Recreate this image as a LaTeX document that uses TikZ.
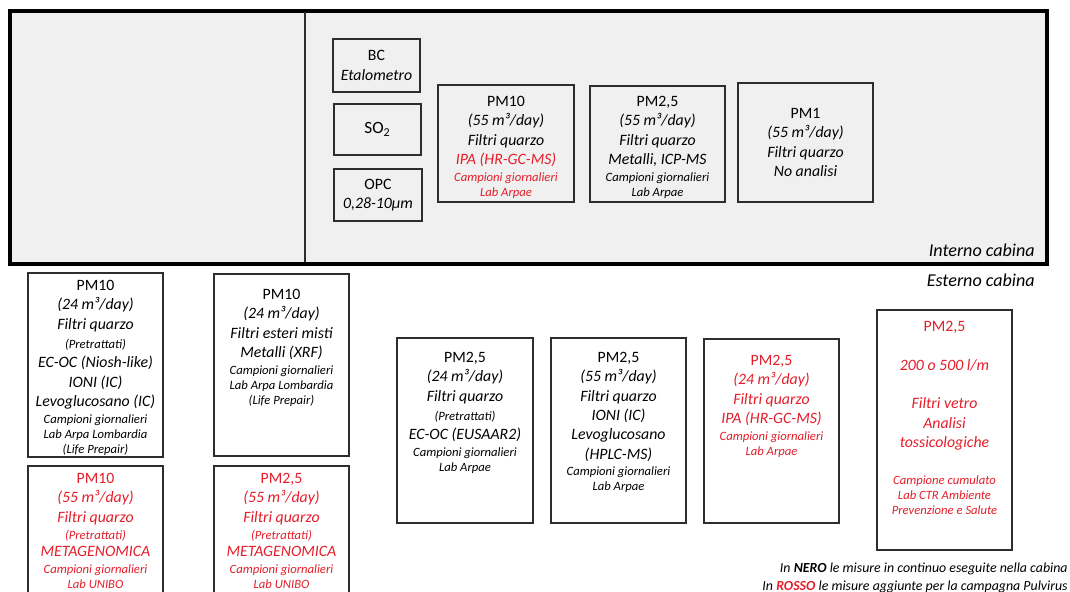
\documentclass[tikz,border=0pt]{standalone}
\usepackage{fontspec}
\setmainfont{Carlito}
\usetikzlibrary{fit}
\definecolor{rosso}{RGB}{228,30,42}
\definecolor{grigio}{RGB}{240,240,240}
\definecolor{bordo}{RGB}{45,45,45}
\newcommand{\piccolo}[1]{{\fontsize{7.2}{8}\selectfont #1}}

\begin{document}
\begin{tikzpicture}[x=0.02cm,y=-0.02cm,
  box/.style={draw=bordo, line width=0.7pt, inner sep=0pt},
  txt/.style={align=center, inner sep=0pt, font=\fontsize{9}{11}\selectfont\itshape},
  rossotxt/.style={txt, text=rosso},
  nota/.style={inner sep=0pt, anchor=east, font=\fontsize{7.9}{9}\selectfont\itshape}]
\useasboundingbox (0,0) rectangle (1070,591);
\clip (0,0) rectangle (1070,591);
% cabina
\draw [fill=grigio, line width=2.2pt] (10,11) rectangle (1047,264);
\draw [bordo, line width=0.8pt] (305,12) -- (305,262);
\node[txt, anchor=east, font=\fontsize{10.3}{12}\selectfont\itshape] (interno) at (1035,250) {Interno cabina};
\node[txt, anchor=east, font=\fontsize{10.3}{12}\selectfont\itshape] (esterno) at (1035,280) {Esterno cabina};
% strumenti interni
\node[box, fit={(333,39) (420,92)}] (bc) {};
\node[txt] (bct) at (bc) {\textup{BC}\\Etalometro};
\node[box, fit={(334,104) (421,155)}] (so2) {};
\node[txt, font=\fontsize{9.8}{11}\selectfont] (so2t) at (so2) {SO\textsubscript{2}};
\node[box, fit={(334,169) (422,221)}] (opc) {};
\node[txt] (opct) at (opc) {\textup{OPC}\\0,28-10µm};
\node[box, fit={(438,85) (574,202)}] (pmdieci) {};
\node[txt, anchor=north] (pmdiecit) at (506,96) {\textup{PM10}\\(55 m³/day)\\Filtri quarzo\\\textcolor{rosso}{IPA (HR-GC-MS)}\\[-1.5pt]\textcolor{rosso}{\piccolo{Campioni giornalieri}}\\[-2.5pt]\textcolor{rosso}{\piccolo{Lab Arpae}}};
\node[box, fit={(590,86) (725,202)}] (pmdue) {};
\node[txt, anchor=north] (pmduet) at (657.5,96) {\textup{PM2,5}\\(55 m³/day)\\Filtri quarzo\\Metalli, ICP-MS\\[-1.5pt]\piccolo{Campioni giornalieri}\\[-2.5pt]\piccolo{Lab Arpae}};
\node[box, fit={(738,83) (873,202)}] (pmuno) {};
\node[txt] (pmunot) at (pmuno) {\textup{PM1}\\(55 m³/day)\\Filtri quarzo\\No analisi};
% campionatori esterni
\node[box, fit={(28,273) (163,457)}] (esta) {};
\node[txt, anchor=north] (estat) at (95.5,280) {\textup{PM10}\\(24 m³/day)\\Filtri quarzo\\\piccolo{(Pretrattati)}\\EC-OC (Niosh-like)\\IONI (IC)\\Levoglucosano (IC)\\[-1.5pt]\piccolo{Campioni giornalieri}\\[-2.5pt]\piccolo{Lab Arpa Lombardia}\\[-2.5pt]\piccolo{(Life Prepair)}};
\node[box, fit={(214,274) (349,456)}] (estb) {};
\node[txt, anchor=north] (estbt) at (281.5,289) {\textup{PM10}\\(24 m³/day)\\Filtri esteri misti\\Metalli (XRF)\\[-1.5pt]\piccolo{Campioni giornalieri}\\[-2.5pt]\piccolo{Lab Arpa Lombardia}\\[-2.5pt]\piccolo{(Life Prepair)}};
\node[box, fit={(28,466) (163,600)}] (estc) {};
\node[rossotxt, anchor=north] (estct) at (95.5,473) {\textup{PM10}\\(55 m³/day)\\Filtri quarzo\\[-1pt]\piccolo{(Pretrattati)}\\[-1.5pt]METAGENOMICA\\[-1.5pt]\piccolo{Campioni giornalieri}\\[-2.5pt]\piccolo{Lab UNIBO}};
\node[box, fit={(214,466) (349,600)}] (estd) {};
\node[rossotxt, anchor=north] (estdt) at (281.5,473) {\textup{PM2,5}\\(55 m³/day)\\Filtri quarzo\\[-1pt]\piccolo{(Pretrattati)}\\[-1.5pt]METAGENOMICA\\[-1.5pt]\piccolo{Campioni giornalieri}\\[-2.5pt]\piccolo{Lab UNIBO}};
\node[box, fit={(397,338) (533,523)}] (este) {};
\node[txt, anchor=north] (estet) at (465,352) {\textup{PM2,5}\\(24 m³/day)\\Filtri quarzo\\\piccolo{(Pretrattati)}\\EC-OC (EUSAAR2)\\[-1.5pt]\piccolo{Campioni giornalieri}\\[-2.5pt]\piccolo{Lab Arpae}};
\node[box, fit={(551,338) (686,523)}] (estf) {};
\node[txt, anchor=north] (estft) at (618.5,352) {\textup{PM2,5}\\(55 m³/day)\\Filtri quarzo\\IONI (IC)\\Levoglucosano\\(HPLC-MS)\\[-1.5pt]\piccolo{Campioni giornalieri}\\[-2.5pt]\piccolo{Lab Arpae}};
\node[box, fit={(704,339) (839,523)}] (estg) {};
\node[rossotxt, anchor=north] (estgt) at (771.5,355) {\textup{PM2,5}\\(24 m³/day)\\Filtri quarzo\\IPA (HR-GC-MS)\\[-1.5pt]\piccolo{Campioni giornalieri}\\[-2.5pt]\piccolo{Lab Arpae}};
\node[box, fit={(877,310) (1012,550)}] (esth) {};
\node[rossotxt, anchor=north] (estht) at (944.5,321) {\textup{PM2,5}\\[11pt]200 o 500 l/m\\[11pt]Filtri vetro\\Analisi\\tossicologiche\\[10pt]\piccolo{Campione cumulato}\\[-2.5pt]\piccolo{Lab CTR Ambiente}\\[-2.5pt]\piccolo{Prevenzione e Salute}};
% legenda
\node[nota] (nero) at (1068,569) {In \textbf{NERO} le misure in continuo eseguite nella cabina};
\node[nota] (rossonota) at (1068,587) {In \textcolor{rosso}{\textbf{ROSSO}} le misure aggiunte per la campagna Pulvirus};
\end{tikzpicture}
\end{document}
